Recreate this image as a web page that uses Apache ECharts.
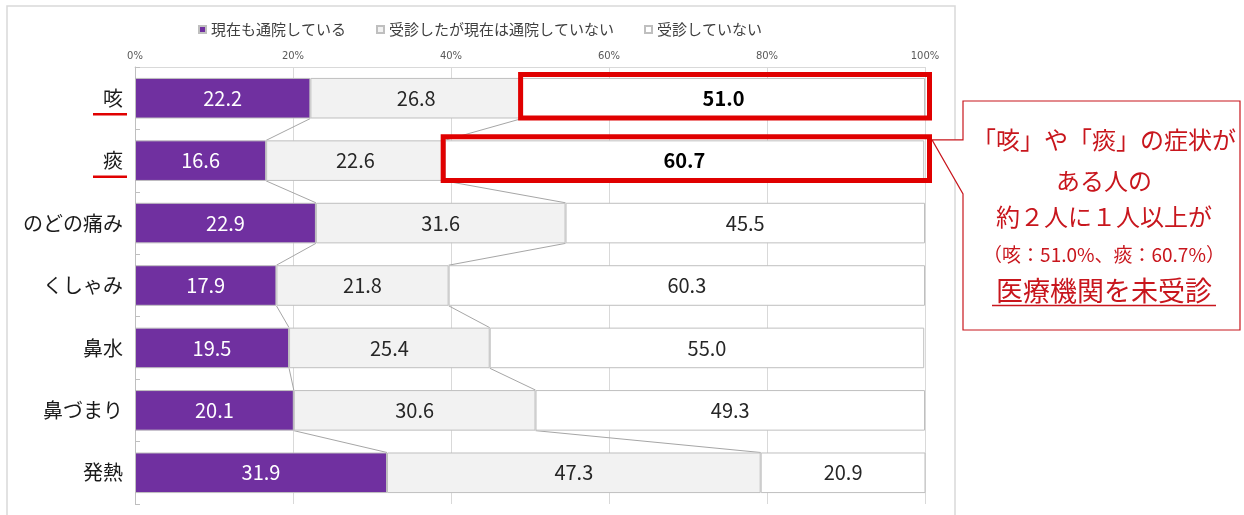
<!DOCTYPE html>
<html><head><meta charset="utf-8">
<script src="https://cdn.jsdelivr.net/npm/echarts@6/dist/echarts.min.js"></script>
<style>html,body{margin:0;padding:0;background:#fff}#c{width:1244px;height:515px}</style>
</head><body><div id="c"></div>
<script>
const categories = ['咳','痰','のどの痛み','くしゃみ','鼻水','鼻づまり','発熱'];
const seriesNames = ['現在も通院している','受診したが現在は通院していない','受診していない'];
const visiting = [22.2,16.6,22.9,17.9,19.5,20.1,31.9];
const visitedNotNow = [26.8,22.6,31.6,21.8,25.4,30.6,47.3];
const notVisited = [51.0,60.7,45.5,60.3,55.0,49.3,20.9];
const xTicks = [0,20,40,60,80,100];
const highlighted = ['咳','痰'];
const calloutLines = ['「咳」や「痰」の症状が','ある人の','約２人に１人以上が','（咳：51.0%、痰：60.7%）','医療機関を未受診'];

const RED = '#E00000';
const CRED = '#C8161D';
const FONT = '"Noto Sans CJK JP","Noto Sans",sans-serif';
const BAR_RATIO = 0.65;

const cum1 = visiting.slice();
const cum2 = visiting.map((v,i)=>v+visitedNotNow[i]);

const chart = echarts.init(document.getElementById('c'), null, {renderer:'canvas'});

function labelCfg(color){
  return {show:true, position:'inside', formatter:p=>Number(p.value).toFixed(1),
    color:color, fontSize:20, fontFamily:FONT};
}

const option = {
  animation:false,
  backgroundColor:'#fff',
  textStyle:{fontFamily:FONT},
  legend:{
    data:seriesNames, top:17, left:193, itemWidth:7, itemHeight:7, itemGap:30,
    icon:'rect',
    textStyle:{fontSize:15, color:'#404040', fontFamily:FONT}
  },
  grid:{left:135, right:319, top:67, bottom:11, containLabel:false},
  xAxis:{
    type:'value', position:'top', min:0, max:100, interval:20,
    axisLabel:{formatter:v=>v+'%', fontSize:10, color:'#595959', margin:6, fontFamily:'"Liberation Sans Narrow","DejaVu Sans",sans-serif'},
    axisLine:{show:true, lineStyle:{color:'#D9D9D9'}},
    axisTick:{show:false},
    splitLine:{show:true, lineStyle:{color:'#D9D9D9'}}
  },
  yAxis:{
    type:'category', data:categories, inverse:true,
    axisLine:{show:true, lineStyle:{color:'#BFBFBF'}},
    axisTick:{show:true, inside:true, length:5, lineStyle:{color:'#BFBFBF'}},
    axisLabel:{fontSize:20, color:'#1a1a1a', margin:12, fontFamily:FONT}
  },
  series:[
    {name:seriesNames[0], type:'bar', stack:'t', barWidth:(BAR_RATIO*100)+'%', data:visiting,
      itemStyle:{color:'#7030A0', borderColor:'#BFBFBF', borderWidth:1},
      label:labelCfg('#ffffff')},
    {name:seriesNames[1], type:'bar', stack:'t', data:visitedNotNow,
      itemStyle:{color:'#F2F2F2', borderColor:'#BFBFBF', borderWidth:1},
      label:labelCfg('#262626')},
    {name:seriesNames[2], type:'bar', stack:'t', z:2,
      data:notVisited.map((v,i)=>highlighted.includes(categories[i]) ? {
        value:v, label:{fontWeight:'bold', color:'#000'}} : v),
      itemStyle:{color:'#FFFFFF', borderColor:'#BFBFBF', borderWidth:1},
      label:labelCfg('#262626')},
    {name:'series-lines', type:'custom', silent:true, z:1,
      data:categories.slice(0,-1).map((c,i)=>[0,i]),
      encode:{x:0, y:1},
      renderItem:function(params, api){
        const i = api.value(1);
        const band = api.size([0,1])[1];
        const half = band*BAR_RATIO/2;
        const children = [];
        [cum1, cum2].forEach(c=>{
          const p0 = api.coord([c[i], i]);
          const p1 = api.coord([c[i+1], i+1]);
          children.push({type:'line', shape:{x1:p0[0], y1:p0[1]+half, x2:p1[0], y2:p1[1]-half},
            style:{stroke:'#A6A6A6', lineWidth:1}});
        });
        return {type:'group', children:children};
      }},
    {name:'highlight-boxes', type:'custom', silent:true, z:5,
      data:categories.map((c,i)=>[0,i]).filter(d=>highlighted.includes(categories[d[1]])),
      encode:{x:0, y:1},
      renderItem:function(params, api){
        const i = api.value(1);
        const band = api.size([0,1])[1];
        const half = band*BAR_RATIO/2;
        const p0 = api.coord([cum2[i], i]);
        const p1 = api.coord([100, i]);
        const x0 = p0[0]-1.5, x1 = p1[0]+4.5, y0 = p0[1]-half-3.5, y1 = p0[1]+half-0.5;
        return {type:'rect', shape:{x:x0, y:y0, width:x1-x0, height:y1-y0},
          style:{fill:null, stroke:RED, lineWidth:5}};
      }}
  ]
};
chart.setOption(option);

// annotations computed from the chart's own scales
const graphics = [];
graphics.push({type:'rect', shape:{x:7, y:6, width:948, height:520}, style:{fill:null, stroke:'#D9D9D9', lineWidth:1.5}, z:-1, silent:true});
const band = chart.convertToPixel({yAxisIndex:0}, categories[1]) - chart.convertToPixel({yAxisIndex:0}, categories[0]);
highlighted.forEach(cat=>{
  const y = chart.convertToPixel({yAxisIndex:0}, cat);
  graphics.push({type:'line', shape:{x1:93, y1:y+16, x2:127, y2:y+16}, style:{stroke:RED, lineWidth:2.5}, silent:true});
});
const xEnd = chart.convertToPixel({xAxisIndex:0}, 100);
const yTan = chart.convertToPixel({yAxisIndex:0}, highlighted[1]);
const apexX = xEnd + 7, apexY = yTan - band*BAR_RATIO/2 - 0.5;
const bx = 963, by = 101, bw = 277, bh = 229;
graphics.push({type:'polygon', shape:{points:[[bx,by],[bx+bw,by],[bx+bw,by+bh],[bx,by+bh],[bx,apexY+54],[apexX,apexY],[bx,apexY]]},
  style:{fill:'#fff', stroke:CRED, lineWidth:1.2}, silent:true});
const cx = 1104;
const ys = [140, 181, 217, 255, 291];
const sizes = [24, 24, 24, 19, 27];
calloutLines.forEach((t,i)=>{
  graphics.push({type:'text', x:cx, y:ys[i], style:{text:t, fill:CRED, fontSize:sizes[i], fontFamily:FONT, textAlign:'center', textVerticalAlign:'middle'}, silent:true});
});
graphics.push({type:'line', shape:{x1:cx-112, y1:305.5, x2:cx+112, y2:305.5}, style:{stroke:CRED, lineWidth:1.5}, silent:true});
chart.setOption({graphic:graphics});
</script>
</body></html>
